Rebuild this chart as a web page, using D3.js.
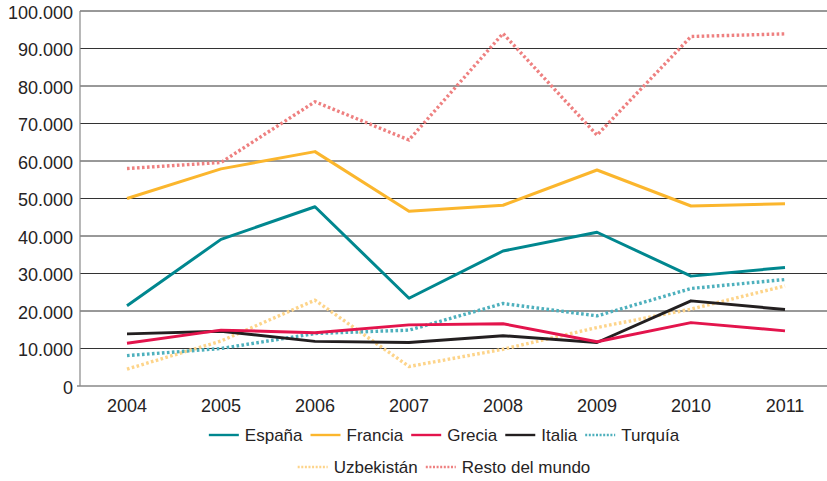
<!DOCTYPE html>
<html>
<head>
<meta charset="utf-8">
<script src="https://cdn.jsdelivr.net/npm/d3@7"></script>
<style>
  body { margin: 0; background: #fff; }
  text { font-family: 'Liberation Sans', Arial, sans-serif; fill: #262324; }
</style>
</head>
<body>
<svg id="chart" width="827" height="481" viewBox="0 0 827 481"></svg>
<script>
'use strict';

var years = ['2004', '2005', '2006', '2007', '2008', '2009', '2010', '2011'];
var yTicks = [0, 10000, 20000, 30000, 40000, 50000, 60000, 70000, 80000, 90000, 100000];

var espana = [21400, 39100, 47800, 23400, 36000, 41000, 29300, 31600];
var francia = [50000, 57900, 62500, 46600, 48200, 57600, 48000, 48600];
var grecia = [11400, 14900, 14200, 16300, 16600, 11800, 16900, 14700];
var italia = [13900, 14600, 11900, 11600, 13400, 11600, 22700, 20400];
var turquia = [8100, 10000, 14000, 14900, 22000, 18700, 26000, 28400];
var uzbekistan = [4500, 12000, 22900, 5200, 9800, 15600, 20500, 26700];
var resto = [58000, 59600, 75800, 65600, 94000, 66900, 93200, 93900];

var seriesNames = ['España', 'Francia', 'Grecia', 'Italia', 'Turquía', 'Uzbekistán', 'Resto del mundo'];
var seriesValues = [espana, francia, grecia, italia, turquia, uzbekistan, resto];
var seriesColors = ['#00878f', '#fbb62d', '#e3144c', '#231f20', '#4eb0bd', '#fdd48a', '#ee8080'];
var seriesDotted = [false, false, false, false, true, true, true];

(function () {
  var svg = d3.select('#chart');
  var left = 80, right = 832, top = 11, bottom = 386;

  var x = d3.scalePoint().domain(years).range([left, right]).padding(0.5);
  var y = d3.scaleLinear().domain([0, 100000]).range([bottom, top]);
  var fmt = function (d) { return d3.format(',')(d).replace(/,/g, '.'); };

  // gridlines
  svg.append('g').selectAll('line').data(yTicks.slice(1)).enter().append('line')
    .attr('x1', left).attr('x2', 827)
    .attr('y1', function (d) { return y(d); })
    .attr('y2', function (d) { return y(d); })
    .attr('stroke', '#333').attr('stroke-width', 1);

  // axes lines
  svg.append('line').attr('x1', left).attr('x2', left).attr('y1', top).attr('y2', bottom)
    .attr('stroke', '#888').attr('stroke-width', 1.2);
  svg.append('line').attr('x1', left - 3).attr('x2', 827).attr('y1', bottom).attr('y2', bottom)
    .attr('stroke', '#888').attr('stroke-width', 1.6);

  // y tick labels
  svg.append('g').selectAll('text').data(yTicks).enter().append('text')
    .attr('x', 73).attr('y', function (d) { return y(d) + 7.5; })
    .attr('text-anchor', 'end').style('font-size', '18px')
    .text(fmt);

  // x tick labels
  svg.append('g').selectAll('text').data(years).enter().append('text')
    .attr('x', function (d) { return x(d); }).attr('y', 412)
    .attr('text-anchor', 'middle').style('font-size', '18px')
    .text(function (d) { return d; });

  var line = d3.line()
    .x(function (d, i) { return x(years[i]); })
    .y(function (d) { return y(d); });

  // draw in stacking order seen in the picture
  var order = [6, 1, 0, 5, 4, 3, 2];
  order.forEach(function (k) {
    svg.append('path').datum(seriesValues[k]).attr('d', line)
      .attr('fill', 'none').attr('stroke', seriesColors[k])
      .attr('stroke-width', seriesDotted[k] ? 3.4 : 3)
      .attr('stroke-dasharray', seriesDotted[k] ? '2.6,2.4' : null)
      .attr('stroke-linejoin', 'round');
  });

  // legend
  var rows = [[0, 1, 2, 3, 4], [5, 6]];
  var rowY = [435, 467];
  var cx = 444;
  rows.forEach(function (row, r) {
    var g = svg.append('g');
    var pos = 0;
    row.forEach(function (k) {
      var item = g.append('g').attr('transform', 'translate(' + pos + ',0)');
      item.append('line').attr('x1', 0).attr('x2', 30).attr('y1', 0).attr('y2', 0)
        .attr('stroke', seriesColors[k]).attr('stroke-width', 2.4)
        .attr('stroke-dasharray', seriesDotted[k] ? '2,1.6' : null);
      var t = item.append('text').attr('x', 36).attr('y', 6).style('font-size', '17px')
        .text(seriesNames[k]);
      pos += 36 + t.node().getComputedTextLength() + 8;
    });
    var w = pos - 8;
    g.attr('transform', 'translate(' + (cx - w / 2) + ',' + rowY[r] + ')');
  });
})();
</script>
</body>
</html>
